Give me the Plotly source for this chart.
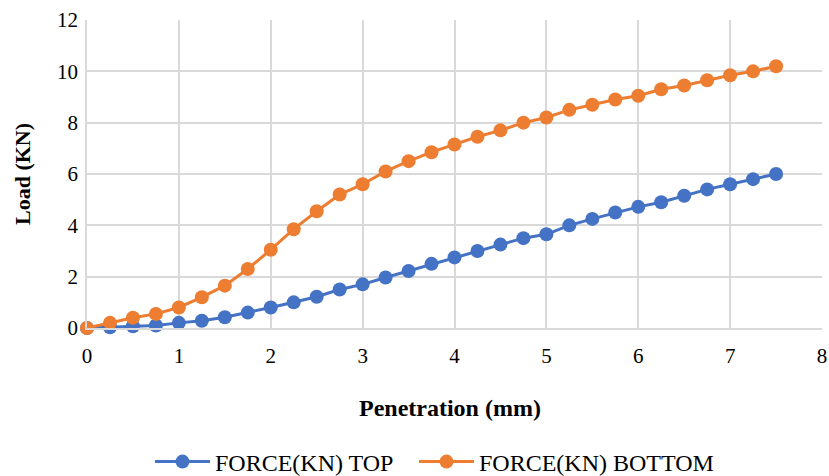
import plotly.graph_objects as go

penetration = [0, 0.25, 0.5, 0.75, 1, 1.25, 1.5, 1.75, 2, 2.25, 2.5, 2.75, 3, 3.25, 3.5, 3.75,
               4, 4.25, 4.5, 4.75, 5, 5.25, 5.5, 5.75, 6, 6.25, 6.5, 6.75, 7, 7.25, 7.5]
force_top = [0, 0.03, 0.07, 0.1, 0.2, 0.28, 0.42, 0.6, 0.8, 1.0, 1.22, 1.5, 1.7, 1.97, 2.22, 2.5,
             2.75, 3.0, 3.25, 3.5, 3.65, 4.0, 4.25, 4.5, 4.72, 4.9, 5.15, 5.4, 5.6, 5.8, 6.0]
force_bottom = [0, 0.2, 0.4, 0.55, 0.8, 1.2, 1.65, 2.3, 3.05, 3.85, 4.55, 5.2, 5.6, 6.1, 6.5, 6.85,
                7.15, 7.45, 7.7, 8.0, 8.2, 8.5, 8.7, 8.9, 9.05, 9.3, 9.45, 9.65, 9.85, 10.0, 10.2]

FONT = "Liberation Serif"

fig = go.Figure()
fig.add_trace(go.Scatter(x=penetration, y=force_top, mode="lines+markers",
                         name="FORCE(KN) TOP", cliponaxis=False, legend="legend",
                         line=dict(color="#4472C4", width=3),
                         marker=dict(color="#4472C4", size=14)))
fig.add_trace(go.Scatter(x=penetration, y=force_bottom, mode="lines+markers",
                         name="FORCE(KN) BOTTOM", cliponaxis=False, legend="legend2",
                         line=dict(color="#ED7D31", width=3),
                         marker=dict(color="#ED7D31", size=14)))

leg_common = dict(orientation="h", xanchor="left", y=-0.435, yanchor="middle",
                  font=dict(family=FONT, size=24), itemwidth=55, bgcolor="rgba(0,0,0,0)")

fig.update_layout(
    width=829, height=476,
    margin=dict(l=87, r=7, t=20, b=148, autoexpand=False),
    paper_bgcolor="white", plot_bgcolor="white",
    font=dict(family=FONT, size=21, color="black"),
    showlegend=True,
    legend=dict(x=0.0857, **leg_common),
    legend2=dict(x=0.4449, **leg_common),
    xaxis=dict(range=[0, 8], dtick=1, showgrid=True, gridcolor="#D9D9D9", gridwidth=1.5,
               zeroline=False, showline=True, linecolor="#D9D9D9", linewidth=1.5,
               ticks="", tickfont=dict(family=FONT, size=21), ticklabelstandoff=8),
    yaxis=dict(range=[0, 12], dtick=2, showgrid=True, gridcolor="#D9D9D9", gridwidth=1.5,
               zeroline=False, showline=True, linecolor="#D9D9D9", linewidth=1.5,
               ticks="", tickfont=dict(family=FONT, size=21), ticklabelstandoff=3),
    annotations=[
        dict(text="<b>Penetration (mm)</b>", xref="paper", yref="paper", x=0.494, y=-0.2597,
             xanchor="center", yanchor="middle", showarrow=False,
             font=dict(family=FONT, size=24)),
        dict(text="<b>Load (KN)</b>", xref="paper", yref="paper", x=-0.0884, y=0.5,
             xanchor="center", yanchor="middle", showarrow=False, textangle=-90,
             font=dict(family=FONT, size=22)),
    ],
)

fig.write_html("out.html")
